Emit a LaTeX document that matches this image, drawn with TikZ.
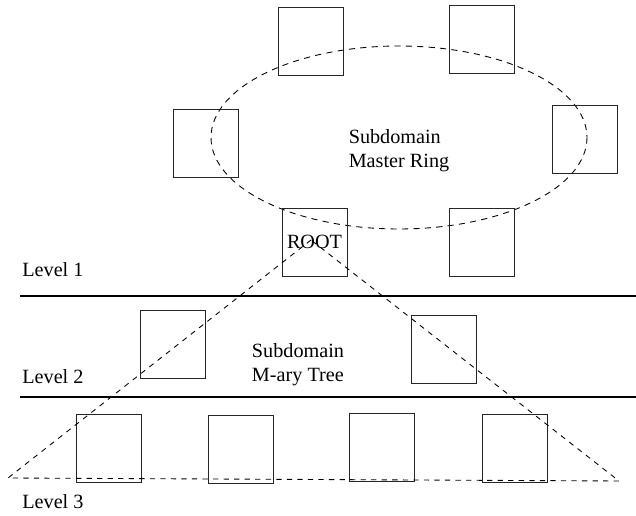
\documentclass[tikz,border=0pt]{standalone}
\usepackage{fontspec}
\setmainfont{Liberation Serif}
\usepackage{tikz}
\usetikzlibrary{positioning,calc}
\tikzset{
  peerbox/.style={draw=black!85,line width=0.5pt,minimum width=1.3cm,minimum height=1.36cm,
    inner sep=0pt,font=\fontsize{11.5}{13.6}\selectfont},
  ringline/.style={draw=black,line width=0.5pt,dash pattern=on 3.5pt off 3pt},
  treeline/.style={draw=black,line width=0.5pt,dash pattern=on 3pt off 3pt},
  levelline/.style={draw=black,line width=0.9pt},
  leveltext/.style={anchor=west,inner sep=0pt,font=\fontsize{11.5}{13.6}\selectfont},
  domaintext/.style={align=left,inner sep=0pt,font=\fontsize{11.5}{13.6}\selectfont}
}

\begin{document}
\begin{tikzpicture}[x=0.02cm,y=-0.02cm]
  \useasboundingbox (0,0) rectangle (636,516);
  % master ring
  \draw[ringline] (399,137.5) ellipse [x radius=188, y radius=91.5];
  \node[peerbox] (ringA) at (310.5,41) {};
  \node[peerbox] (ringB) at (481.5,39) {};
  \node[peerbox] (ringC) at (205.5,143) {};
  \node[peerbox] (ringD) at (584.5,139.5) {};
  \node[peerbox] (root) at (314.5,242) {ROOT};
  \node[peerbox] (ringE) at (482,242) {};
  \node[domaintext] (ringtext) at (399,151) {Subdomain\\Master Ring};
  % levels
  \coordinate (sepA) at (20,296);
  \coordinate (sepB) at (20,397);
  \draw[levelline] (sepA) -- (sepA -| 636,0);
  \draw[levelline] (sepB) -- (sepB -| 636,0);
  \node[leveltext] (lvlA) at (22,270) {Level 1};
  \node[leveltext] (lvlB) at (22,377) {Level 2};
  \node[leveltext] (lvlC) at (22,502) {Level 3};
  % m-ary tree
  \node[peerbox] (midA) at (173,344.5) {};
  \node[peerbox] (midB) at (443.5,349.5) {};
  \node[peerbox] (leafA) at (109,448) {};
  \node[peerbox] (leafB) at (241,449.5) {};
  \node[peerbox] (leafC) at (381.5,447.5) {};
  \node[peerbox] (leafD) at (514.5,448.5) {};
  \node[domaintext] (treetext) at (298,365) {Subdomain\\M-ary Tree};
  \coordinate (apex) at (311,240);
  \coordinate (baseL) at (8,478);
  \coordinate (baseR) at (619,481);
  \draw[treeline] (apex) -- (baseL) -- (baseR) -- cycle;
\end{tikzpicture}
\end{document}
